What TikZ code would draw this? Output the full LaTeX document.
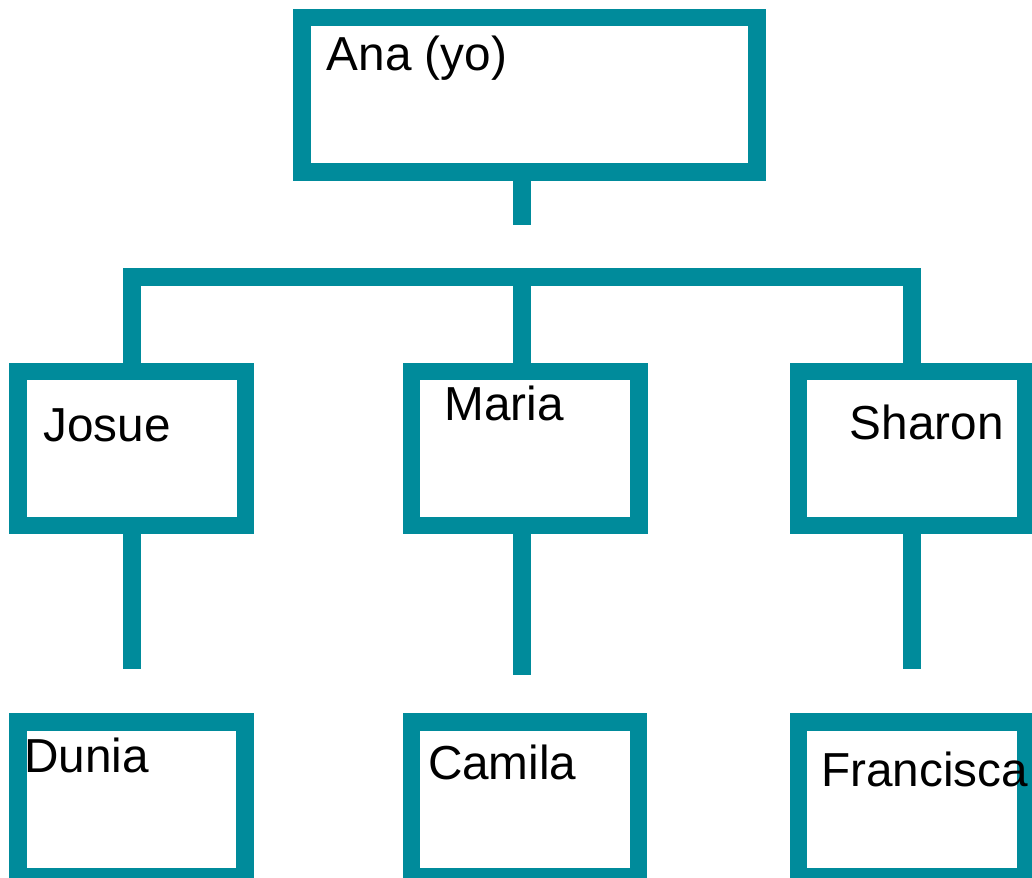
\documentclass[tikz,border=0pt]{standalone}
\usepackage{fontspec}
\setmainfont{Liberation Sans}
\definecolor{teal}{RGB}{0,139,155}
\begin{document}
\begin{tikzpicture}[x=1pt,y=-1pt,
  box/.style={draw=teal,line width=17.5pt,inner sep=0pt,outer sep=0pt,
    minimum width=227.2pt,minimum height=154.1pt},
  conn/.style={draw=teal,line width=17.5pt,line cap=butt,line join=miter},
  lbl/.style={anchor=base west,inner sep=0pt,outer sep=0pt,
    font=\fontsize{47.7}{57}\selectfont}]
\useasboundingbox (0,0) rectangle (1032,877);
\clip (0,0) rectangle (1032,877);
% boxes
\node[box,minimum width=455pt,minimum height=154.3pt] (ana) at (529.5,94.85) {};
\node[box] (josue)  at (131.8,448.45) {};
\node[box] (maria)  at (525.15,448.45) {};
\node[box] (sharon) at (912.1,448.45) {};
\node[box] (dunia)     at (131.6,799.25) {};
\node[box] (camila)    at (525.0,799.25) {};
\node[box] (francisca) at (912.0,799.25) {};
% connector coordinates
\coordinate (s0) at (522,225.3);
\coordinate (bar) at (522,276.8);
\coordinate (js) at (131.8,669.3);
\coordinate (ms) at (522,675);
\coordinate (ss) at (912.1,669.3);
% connectors
\draw[conn] (ana.south -| s0) -- (s0);
\draw[conn] (josue.north) |- (bar) -| (sharon.north);
\draw[conn] (bar) -- (maria.north -| bar);
\draw[conn] (josue.south) -- (js);
\draw[conn] (maria.south -| ms) -- (ms);
\draw[conn] (sharon.south) -- (ss);
% labels
\node[lbl] (tana) at (326.7,71) {Ana (yo)};
\node[lbl] (tjosue) at (43.3,441) {Josue};
\node[lbl] (tmaria) at (444.4,420.7) {Maria};
\node[lbl] (tsharon) at (849.9,439.3) {Sharon};
\node[lbl] (tdunia) at (24.4,772.3) {Dunia};
\node[lbl] (tcamila) at (428,779.5) {Camila};
\node[lbl] (tfrancisca) at (821.2,786.7) {Francisca};
\end{tikzpicture}
\end{document}
